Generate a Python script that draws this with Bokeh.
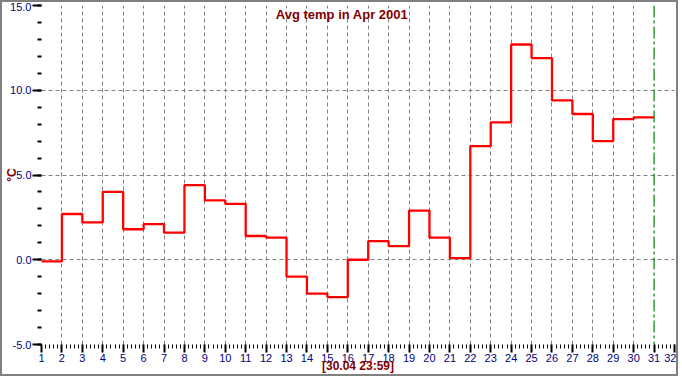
from bokeh.plotting import figure
from bokeh.models import FixedTicker, Span, Label, PrintfTickFormatter
from bokeh.embed import file_html
from bokeh.resources import INLINE

# ---- data ----
days = list(range(1, 31))
temps = [-0.1, 2.7, 2.2, 4.0, 1.8, 2.1, 1.6, 4.4, 3.5, 3.3,
         1.4, 1.3, -1.0, -2.0, -2.2, 0.0, 1.1, 0.8, 2.9, 1.3,
         0.1, 6.7, 8.1, 12.7, 11.9, 9.4, 8.6, 7.0, 8.3, 8.4]
x_ticks = list(range(1, 33))
y_ticks = [-5, 0, 5, 10, 15]
grid_y = [0, 5, 10]
grid_x = list(range(2, 31))
now_day = 31
title_text = "Avg temp in Apr 2001"
x_label = "[30.04 23:59]"
y_label = "\u00b0C"

W, H = 678, 376
LEFT, RIGHT, TOP, BOTTOM = 38, 6, 3, 34
X0, X1, Y0, Y1 = 1, 32, -5, 15

p = figure(width=W, height=H, output_backend="svg", toolbar_location=None,
           x_range=(X0, X1), y_range=(Y0, Y1),
           min_border_left=LEFT, min_border_right=RIGHT,
           min_border_top=TOP, min_border_bottom=BOTTOM)
p.styles = {"border": "2px solid #808080"}
p.outline_line_color = None
p.background_fill_color = "white"
p.border_fill_color = "white"

# steps: last day held to the end marker
xs = days + [days[-1] + 1]
ys = temps + [temps[-1]]
p.step(xs, ys, mode="after", line_color="#ff0000", line_width=2.3)

p.add_layout(Span(location=now_day, dimension="height", line_color="#008000",
                  line_width=1.2, line_dash="12 3 3 3"))

# grids
p.xgrid.ticker = FixedTicker(ticks=grid_x)
p.ygrid.ticker = FixedTicker(ticks=grid_y)
for g in (p.xgrid, p.ygrid):
    g.grid_line_color = "#808080"
    g.grid_line_dash = "4 3"
    g.grid_line_width = 1

# axes
minor_x = [X0 + i * 0.2 for i in range(int((X1 - X0) * 5) + 1)]
minor_y = list(range(Y0, Y1 + 1))
p.xaxis.ticker = FixedTicker(ticks=x_ticks, minor_ticks=minor_x)
p.yaxis.ticker = FixedTicker(ticks=y_ticks, minor_ticks=minor_y)
p.yaxis.formatter = PrintfTickFormatter(format="%.1f")
for ax in (p.xaxis[0], p.yaxis[0]):
    ax.axis_line_color = None
    ax.major_tick_line_color = "black"
    ax.minor_tick_line_color = "black"
    ax.major_tick_in = 0
    ax.minor_tick_in = 0
    ax.major_label_text_color = "#000080"
    ax.major_label_text_font = "Liberation Sans"
    ax.major_label_text_font_size = "11px"
    ax.axis_label_text_color = "#800000"
    ax.axis_label_text_font = "Liberation Sans"
    ax.axis_label_text_font_style = "bold"
    ax.axis_label_text_font_size = "12px"
p.xaxis.major_tick_out = 8
p.xaxis.minor_tick_out = 4
p.xaxis.major_tick_line_width = 2
p.xaxis.minor_tick_line_width = 1
p.xaxis.major_label_standoff = 1
p.xaxis.axis_label = x_label
p.xaxis.axis_label_standoff = -6
p.yaxis.major_tick_out = 9
p.yaxis.minor_tick_out = 4
p.yaxis.major_tick_line_width = 2
p.yaxis.minor_tick_line_width = 2
p.yaxis.major_label_standoff = 1
p.yaxis.axis_label = y_label
p.yaxis.axis_label_standoff = -12

frame_w = W - LEFT - RIGHT
px_per_x = frame_w / (X1 - X0)
title_x = X0 + (W / 2 - LEFT) / px_per_x
p.add_layout(Label(x=title_x, y=14.47, text=title_text, text_align="center",
                   text_baseline="middle", text_color="#800000",
                   text_font="Liberation Sans", text_font_style="bold",
                   text_font_size="13px"))

open("out.html", "w").write(file_html(p, INLINE))
